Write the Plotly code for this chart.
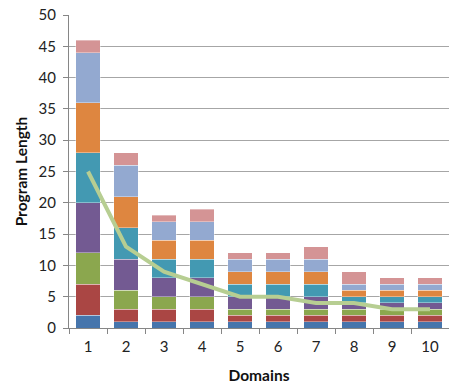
import plotly.graph_objects as go

# Domains on the x axis
domains = ["1", "2", "3", "4", "5", "6", "7", "8", "9", "10"]

# Stacked program-length components per domain (bottom to top)
comp_1 = [2, 1, 1, 1, 1, 1, 1, 1, 1, 1]
comp_2 = [5, 2, 2, 2, 1, 1, 1, 1, 1, 1]
comp_3 = [5, 3, 2, 2, 1, 1, 1, 1, 1, 1]
comp_4 = [8, 5, 3, 3, 2, 2, 2, 1, 1, 1]
comp_5 = [8, 5, 3, 3, 2, 2, 2, 1, 1, 1]
comp_6 = [8, 5, 3, 3, 2, 2, 2, 1, 1, 1]
comp_7 = [8, 5, 3, 3, 2, 2, 2, 1, 1, 1]
comp_8 = [2, 2, 1, 2, 1, 1, 2, 2, 1, 1]

# Overlay line
trend = [25, 13, 9, 7, 5, 5, 4, 4, 3, 3]

y_ticks = [0, 5, 10, 15, 20, 25, 30, 35, 40, 45, 50]

components = [comp_1, comp_2, comp_3, comp_4, comp_5, comp_6, comp_7, comp_8]
colors = ["#4675AC", "#AA4644", "#8BA74E", "#735A92",
          "#4399B2", "#DE8640", "#93A9D0", "#D49495"]

fig = go.Figure()
for i, (vals, col) in enumerate(zip(components, colors)):
    fig.add_trace(go.Bar(
        x=domains, y=vals, name=f"Component {i + 1}",
        marker=dict(color=col, line=dict(color="rgba(255,255,255,0.6)", width=0.6)),
        hoverinfo="y",
    ))

fig.add_trace(go.Scatter(
    x=domains, y=trend, mode="lines", name="Trend",
    line=dict(color="#B7CE92", width=4),
))

font_family = "Lato, 'Open Sans', sans-serif"

fig.update_layout(
    barmode="stack",
    bargap=0.35,
    width=449, height=388,
    margin=dict(l=69, r=0, t=15, b=60),
    paper_bgcolor="white",
    plot_bgcolor="white",
    showlegend=False,
    font=dict(family=font_family, size=15, color="#222222"),
    xaxis=dict(
        type="category",
        categoryorder="array", categoryarray=domains,
        ticks="outside", tickson="boundaries", ticklen=5,
        tickcolor="#868686",
        showline=True, linecolor="#868686", linewidth=1,
        showgrid=False,
        ticklabelstandoff=5,
        title=dict(text="<b>Domains</b>", font=dict(size=15.5, color="#111111"), standoff=16),
        tickfont=dict(size=15),
    ),
    yaxis=dict(
        range=[0, 50],
        tickvals=y_ticks,
        ticks="outside", ticklen=5, tickcolor="#868686",
        showline=True, linecolor="#868686", linewidth=1,
        showgrid=True, gridcolor="#A6A6A6", gridwidth=1,
        zeroline=False,
        ticklabelstandoff=4,
        title=dict(text="<b>Program Length</b>", font=dict(size=15.5, color="#111111"), standoff=7),
        tickfont=dict(size=15),
    ),
)

fig.write_html("out.html")
